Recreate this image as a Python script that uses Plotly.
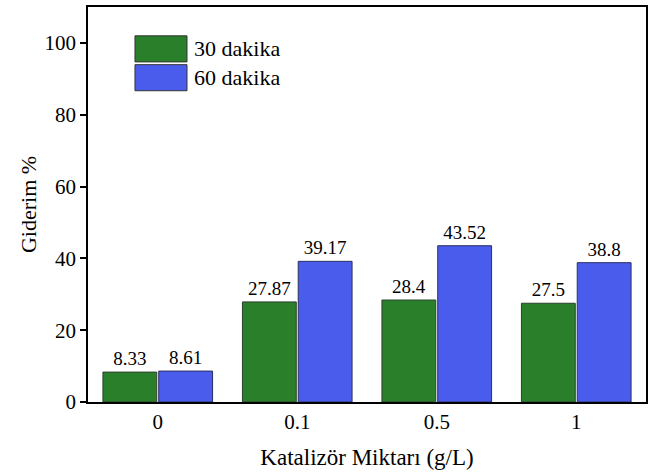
import plotly.graph_objects as go

categories = ["0", "0.1", "0.5", "1"]
series_names = ["30 dakika", "60 dakika"]
series_colors = ["#2a7f2a", "#4a5cec"]
values_30 = [8.33, 27.87, 28.4, 27.5]
values_60 = [8.61, 39.17, 43.52, 38.8]
y_ticks = [0, 20, 40, 60, 80, 100]

FONT = "Liberation Serif"

fig = go.Figure()
fig.add_trace(go.Bar(
    x=categories, y=values_30, name=series_names[0],
    marker=dict(color=series_colors[0], line=dict(color="#2f3f2f", width=1)),
    text=[str(v) for v in values_30], textposition="outside",
    textfont=dict(family=FONT, size=19, color="black"), cliponaxis=False,
))
fig.add_trace(go.Bar(
    x=categories, y=values_60, name=series_names[1],
    marker=dict(color=series_colors[1], line=dict(color="#2a2f5f", width=1)),
    text=[str(v) for v in values_60], textposition="outside",
    textfont=dict(family=FONT, size=19, color="black"), cliponaxis=False,
))

# legend drawn as swatches + labels (paper coordinates)
legend_rows = [(0.927, 0.861), (0.854, 0.788)]
for (y1, y0), name, col in zip(legend_rows, series_names, series_colors):
    fig.add_shape(type="rect", xref="paper", yref="paper",
                  x0=0.0842, x1=0.1774, y0=y0, y1=y1,
                  fillcolor=col, line=dict(color="#333333", width=1))
    fig.add_annotation(xref="paper", yref="paper", x=0.186, y=(y0 + y1) / 2,
                       xanchor="left", yanchor="middle", showarrow=False,
                       text=name, font=dict(family=FONT, size=22, color="black"))

fig.update_layout(
    width=662, height=475,
    margin=dict(l=88, r=16, t=5, b=73),
    paper_bgcolor="white", plot_bgcolor="white",
    barmode="group", bargap=0.2, bargroupgap=0.035,
    font=dict(family=FONT, size=20, color="black"),
    showlegend=False,
    xaxis=dict(
        type="category", range=[-0.5, 3.5],
        showline=True, linecolor="black", linewidth=1.5, mirror=True,
        ticks="", showgrid=False,
        tickfont=dict(family=FONT, size=21),
        title=dict(text="Katalizör Miktarı (g/L)", font=dict(family=FONT, size=23), standoff=16),
    ),
    yaxis=dict(
        range=[0, 110], tickvals=y_ticks,
        showline=True, linecolor="black", linewidth=1.5, mirror=True,
        ticks="outside", ticklen=6, tickwidth=1.5, tickcolor="black",
        showgrid=False, zeroline=False,
        tickfont=dict(family=FONT, size=21),
        title=dict(text="Giderim %", font=dict(family=FONT, size=22), standoff=2),
    ),
)

fig.write_html("out.html", config={"displayModeBar": False},
               post_script="document.body.style.margin='0';document.body.style.overflow='hidden';")
